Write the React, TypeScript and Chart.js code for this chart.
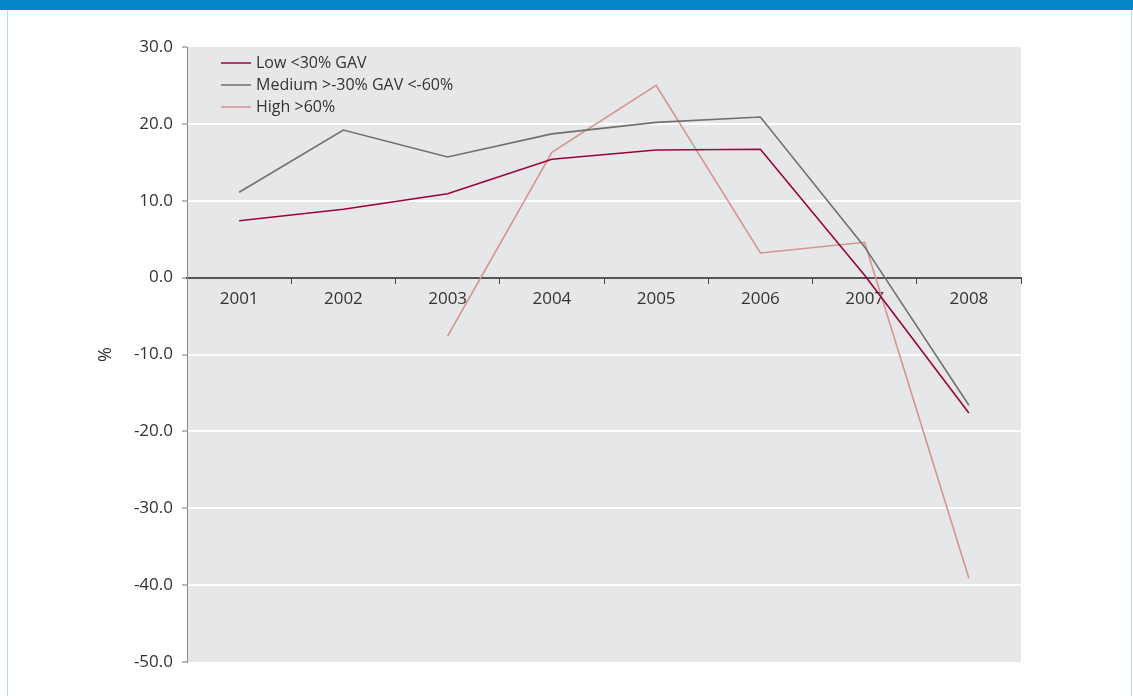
import React, { useEffect, useRef } from "react";
import { Chart, registerables } from "chart.js";

Chart.register(...registerables);

const years = ["2001", "2002", "2003", "2004", "2005", "2006", "2007", "2008"];
const lowValues = [7.4, 8.9, 10.9, 15.4, 16.6, 16.7, 0.3, -17.6];
const mediumValues = [11.1, 19.2, 15.7, 18.7, 20.2, 20.9, 4.0, -16.6];
const highValues = [null, null, -7.6, 16.3, 25.0, 3.2, 4.6, -39.1];
const seriesLabels = ["Low <30% GAV", "Medium >-30% GAV <-60%", "High >60%"];
const seriesColors = ["#a0003a", "#707070", "#d8938e"];
const yMin = -50;
const yMax = 30;
const yStep = 10;
const yTitle = "%";

const FONT = "'Open Sans', 'Noto Sans', sans-serif";

const bgPlugin = {
  id: "plotBg",
  beforeDraw(chart: any) {
    const { ctx, chartArea } = chart;
    ctx.save();
    ctx.fillStyle = "#e6e7e9";
    ctx.fillRect(chartArea.left, chartArea.top, chartArea.right - chartArea.left, chartArea.bottom - chartArea.top);
    ctx.restore();
  },
};

const legendPlugin = {
  id: "innerLegend",
  afterDraw(chart: any) {
    const { ctx, chartArea } = chart;
    ctx.save();
    ctx.font = `16px ${FONT}`;
    ctx.textBaseline = "middle";
    chart.data.datasets.forEach((ds: any, i: number) => {
      const y = chartArea.top + 16 + i * 22;
      const x0 = chartArea.left + 34;
      ctx.strokeStyle = ds.borderColor;
      ctx.lineWidth = 1.5;
      ctx.beginPath();
      ctx.moveTo(x0, y);
      ctx.lineTo(x0 + 30, y);
      ctx.stroke();
      ctx.fillStyle = "#333333";
      ctx.fillText(ds.label, x0 + 35, y);
    });
    ctx.restore();
  },
};

export default function App() {
  const ref = useRef<HTMLCanvasElement>(null);

  useEffect(() => {
    if (!ref.current) return;
    const seriesValues = [lowValues, mediumValues, highValues];
    const chart = new Chart(ref.current, {
      type: "line",
      data: {
        labels: years,
        datasets: seriesLabels.map((label, i) => ({
          label,
          data: seriesValues[i],
          borderColor: seriesColors[i],
          backgroundColor: seriesColors[i],
          borderWidth: 1.6,
          pointRadius: 0,
          tension: 0,
          spanGaps: false,
        })),
      },
      options: {
        animation: false,
        responsive: false,
        maintainAspectRatio: false,
        layout: { padding: { left: 90, top: 47, right: 112, bottom: 34 } },
        plugins: {
          legend: { display: false },
          tooltip: { enabled: false },
        },
        scales: {
          x: {
            position: { y: 0 } as any,
            offset: true,
            grid: {
              offset: true,
              drawOnChartArea: false,
              drawTicks: true,
              tickLength: 5,
              tickColor: "#444444",
              tickWidth: 1,
            },
            border: { display: true, color: "#555555", width: 2 },
            ticks: {
              color: "#333333",
              font: { family: FONT, size: 17 },
              padding: 6,
              maxRotation: 0,
            },
          },
          y: {
            min: yMin,
            max: yMax,
            afterFit(scale: any) {
              scale.width = 97;
            },
            grid: {
              color: (ctx: any) => {
                const v = ctx.tick ? ctx.tick.value : 0;
                return v === yMin || v === yMax || v === 0 ? "rgba(0,0,0,0)" : "#ffffff";
              },
              lineWidth: 2,
              tickColor: "#777777",
              tickWidth: 1,
              tickLength: 5,
            },
            border: { display: true, color: "#8a8a8a", width: 1 },
            ticks: {
              stepSize: yStep,
              color: "#333333",
              font: { family: FONT, size: 17 },
              padding: 9,
              callback: (v: any) => Number(v).toFixed(1),
            },
            title: {
              display: true,
              text: yTitle,
              color: "#333333",
              font: { family: FONT, size: 18 },
              padding: { top: 5, bottom: 0 },
            },
          },
        },
      },
      plugins: [bgPlugin, legendPlugin],
    });
    return () => chart.destroy();
  }, []);

  return (
    <div style={{ position: "absolute", left: 0, top: 0, width: 1133, height: 696, background: "#ffffff", overflow: "hidden" }}>
      <div style={{ position: "absolute", left: 0, top: 0, width: 1133, height: 10, background: "#0587c6" }} />
      <div style={{ position: "absolute", left: 7, top: 10, width: 1, height: 686, background: "#b9d9ee" }} />
      <div style={{ position: "absolute", left: 1131, top: 10, width: 1, height: 686, background: "#b9d9ee" }} />
      <canvas ref={ref} width={1133} height={696} style={{ position: "absolute", left: 0, top: 0, width: 1133, height: 696 }} />
    </div>
  );
}
